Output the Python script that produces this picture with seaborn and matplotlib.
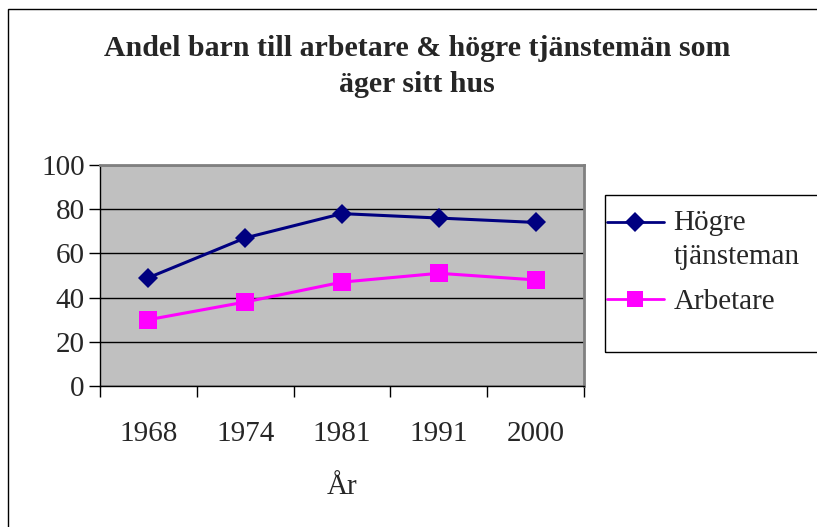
import matplotlib
matplotlib.use("Agg")
import matplotlib.pyplot as plt
import seaborn as sns
import pandas as pd
import numpy as np
from matplotlib.patches import Rectangle
from matplotlib.ticker import FixedLocator

years = ["1968", "1974", "1981", "1991", "2000"]
hogre = [49, 67, 78, 76, 74]
arbetare = [30, 38, 47, 51, 48]
series_names = ["Högre\ntjänsteman", "Arbetare"]
title = "Andel barn till arbetare & högre tjänstemän som\näger sitt hus"
xlabel = "År"

sns.set_style("white")
plt.rcParams['font.family'] = ['Liberation Serif', 'DejaVu Serif']

df = pd.DataFrame({
    "pos": list(range(len(years))) * 2,
    "val": hogre + arbetare,
    "serie": [series_names[0]] * len(years) + [series_names[1]] * len(years),
})

W, H = 817, 527
fig = plt.figure(figsize=(W / 100, H / 100), dpi=100)
ax = fig.add_axes([100 / W, 1 - 386 / H, (584 - 100) / W, (386 - 165) / H])
ax.set_facecolor("#C0C0C0")

sns.lineplot(data=df, x="pos", y="val", hue="serie", style="serie",
             palette=["#000080", "#FF00FF"], markers=["D", "s"], dashes=False,
             linewidth=2.2, markersize=9, markeredgewidth=0, ax=ax)
lines = ax.get_lines()
lines[0].set_markersize(10)
lines[1].set_markersize(13)

ax.set_xlim(-0.5, len(years) - 0.5)
ax.set_ylim(0, 100)
ax.set_yticks([0, 20, 40, 60, 80, 100])
ax.yaxis.grid(True, color="black", linewidth=1)
ax.set_axisbelow(True)
ax.set_xticks(range(len(years)))
ax.set_xticklabels(years, fontsize=21)
ax.tick_params(axis="x", which="major", length=0, pad=25)
ax.xaxis.set_minor_locator(FixedLocator([i - 0.5 for i in range(len(years) + 1)]))
ax.tick_params(axis="x", which="minor", length=8, width=1, color="black", direction="out")
ax.tick_params(axis="y", length=8, width=1, color="black", direction="out", labelsize=21, pad=3)
ax.tick_params(axis="both", which="both", bottom=True, left=True)
for s in ["top", "right"]:
    ax.spines[s].set_color("#808080")
    ax.spines[s].set_linewidth(2)
for s in ["left", "bottom"]:
    ax.spines[s].set_color("black")
    ax.spines[s].set_linewidth(1)
ax.set_xlabel(xlabel, fontsize=21, labelpad=20)
ax.set_ylabel("")

leg = ax.legend(loc="upper left", bbox_to_anchor=(607 / W, 1 - 210 / H), bbox_transform=fig.transFigure,
                fontsize=21, frameon=False, handlelength=1.95, handletextpad=0.33,
                borderpad=0.0, labelspacing=0.64, borderaxespad=0)
for t in leg.get_texts():
    t.set_linespacing(1.4)
for i, h in enumerate(leg.legend_handles):
    h.set_linewidth(2)
    h.set_markeredgewidth(0)
leg.legend_handles[0].set_markersize(10)
leg.legend_handles[1].set_markersize(12)
# align the first handle with the first text line
leg.legend_handles[0].set_ydata(np.asarray(leg.legend_handles[0].get_ydata()) + 12.6)

fig.patches.append(Rectangle((605 / W, 1 - 352 / H), 1.0, (352 - 195) / H, transform=fig.transFigure,
                             fill=False, edgecolor="black", linewidth=1))

fig.text(417 / W, 1 - 35 / H, title, ha="center", va="top", fontsize=21.5, fontweight="bold",
         linespacing=1.45)

fig.patches.append(Rectangle((8 / W, -0.1), 1.2, 1 - 9 / H + 0.1, transform=fig.transFigure,
                             fill=False, edgecolor="black", linewidth=1))

fig.savefig("out.png", dpi=100)
